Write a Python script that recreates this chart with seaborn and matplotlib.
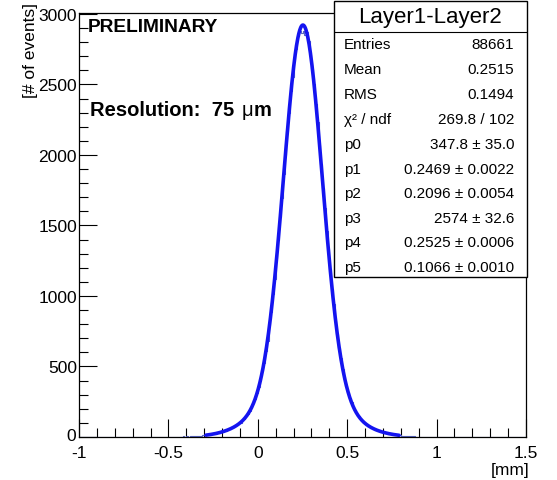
import numpy as np
import pandas as pd
import matplotlib
matplotlib.use("Agg")
import matplotlib.pyplot as plt
import matplotlib.transforms as mtransforms
from matplotlib.ticker import MultipleLocator, FuncFormatter
from matplotlib.patches import Rectangle
import seaborn as sns

# ---------------- data ----------------
bin_edges_range = (-1.0, 1.5)
n_bins = 250
counts = [
    0, 1, 0, 0, 1, 0, 0, 1, 0, 1,
    1, 0, 1, 0, 1, 1, 0, 1, 0, 1,
    1, 0, 1, 1, 0, 1, 1, 0, 2, 1,
    1, 1, 0, 2, 1, 1, 2, 1, 1, 2,
    2, 1, 2, 1, 2, 2, 1, 3, 2, 2,
    3, 2, 2, 3, 2, 3, 3, 2, 4, 3,
    4, 3, 5, 4, 6, 7, 6, 9, 10, 11,
    13, 12, 17, 16, 21, 23, 24, 28, 31, 33,
    37, 44, 46, 54, 56, 65, 69, 79, 83, 96,
    102, 118, 127, 148, 160, 187, 206, 241, 266, 312,
    356, 399, 468, 525, 612, 684, 795, 886, 1015, 1124,
    1272, 1398, 1561, 1695, 1866, 2003, 2171, 2296, 2452, 2555,
    2680, 2755, 2843, 2878, 2862, 2882, 2850, 2870, 2806, 2709,
    2608, 2505, 2359, 2236, 2071, 1935, 1764, 1627, 1461, 1330,
    1194, 1051, 945, 820, 733, 630, 561, 479, 426, 362,
    322, 275, 246, 209, 189, 161, 147, 125, 116, 100,
    93, 80, 76, 65, 62, 52, 50, 43, 41, 35,
    33, 28, 27, 22, 21, 19, 15, 15, 13, 12,
    10, 9, 8, 7, 6, 5, 5, 4, 3, 3,
    3, 2, 2, 2, 1, 2, 1, 1, 2, 1,
    1, 0, 1, 1, 0, 1, 0, 1, 0, 0,
    1, 0, 0, 1, 0, 0, 1, 0, 0, 0,
    0, 1, 0, 0, 0, 1, 0, 0, 0, 0,
    0, 0, 1, 0, 0, 0, 0, 1, 0, 0,
    0, 0, 0, 1, 0, 0, 0, 0, 0, 0,
]
# fit parameters (double gaussian) as shown in the stats box
fit_params = [347.8, 0.2469, 0.2096, 2574.0, 0.2525, 0.1066]
fit_range = (-0.29, 0.79)

stat_labels = ["Entries", "Mean", "RMS", "χ² / ndf", "p0", "p1", "p2", "p3", "p4", "p5"]
stat_values = ["88661", "0.2515", "0.1494", "269.8 / 102", "347.8 ± 35.0",
               "0.2469 ± 0.0022", "0.2096 ± 0.0054", "2574 ± 32.6",
               "0.2525 ± 0.0006", "0.1066 ± 0.0010"]
stat_title = "Layer1-Layer2"
x_ticks = [-1, -0.5, 0, 0.5, 1, 1.5]
y_ticks = [0, 500, 1000, 1500, 2000, 2500, 3000]

# ---------------- style ----------------
sns.set_style("ticks")
plt.rcParams["font.family"] = ["Liberation Sans", "DejaVu Sans"]
plt.rcParams["axes.unicode_minus"] = False
plt.rcParams["text.color"] = "black"
plt.rcParams["xtick.color"] = "black"
plt.rcParams["ytick.color"] = "black"

W, H = 557, 481
fig = plt.figure(figsize=(W / 100, H / 100), dpi=100)
fig.patch.set_facecolor("white")

def fx(px):
    return px / W

def fy(py):
    return 1 - py / H

ax_l, ax_r, ax_t, ax_b = 79, 526, 14, 438
ax = fig.add_axes([fx(ax_l), fy(ax_b), fx(ax_r) - fx(ax_l), fy(ax_t) - fy(ax_b)])

bw = (bin_edges_range[1] - bin_edges_range[0]) / n_bins
centers = bin_edges_range[0] + bw * (np.arange(n_bins) + 0.5)
df = pd.DataFrame({"x": centers, "w": np.asarray(counts, dtype=float)})
sns.histplot(data=df, x="x", weights="w", binwidth=bw, binrange=bin_edges_range,
             element="step", fill=False, color="#5a68c4", linewidth=0.8, ax=ax)

def fit_func(x, p):
    return (p[0] * np.exp(-0.5 * ((x - p[1]) / p[2]) ** 2)
            + p[3] * np.exp(-0.5 * ((x - p[4]) / p[5]) ** 2))

xf = np.linspace(fit_range[0], fit_range[1], 600)
dff = pd.DataFrame({"x": xf, "y": fit_func(xf, fit_params)})
sns.lineplot(data=dff, x="x", y="y", color="#1414f0", linewidth=2.6, ax=ax)

ax.set_xlim(-1.0, 1.5)
ax.set_ylim(0, 3007)
ax.set_xlabel("")
ax.set_ylabel("")
ax.set_xticks(x_ticks)
ax.set_yticks(y_ticks)
ax.xaxis.set_minor_locator(MultipleLocator(0.1))
ax.yaxis.set_minor_locator(MultipleLocator(100))
ax.xaxis.set_major_formatter(FuncFormatter(lambda v, p: "%g" % v))
ax.tick_params(which="major", direction="in", length=13, width=0.8, labelsize=12.5, colors="black")
ax.tick_params(which="minor", direction="in", length=6.5, width=0.8, colors="black")
ax.tick_params(axis="y", which="both", right=False, pad=1.5)
ax.tick_params(axis="x", which="both", top=False, pad=6)
for s in ax.spines.values():
    s.set_visible(True)
    s.set_color("black")
    s.set_linewidth(0.9)

# nudge the y "0" label up slightly so it does not collide with the x "-1" label
fig.canvas.draw()
ylabs = ax.get_yticklabels()
if ylabs:
    ylabs[0].set_transform(ylabs[0].get_transform() +
                           mtransforms.ScaledTranslation(-1 / 100, 3 / 100, fig.dpi_scale_trans))

# titles
fig.text(fx(30), fy(3), "[# of events]", rotation=90, ha="center", va="top", fontsize=12.5)
fig.text(fx(529), fy(478), "[mm]", ha="right", va="bottom", fontsize=12.5)

# annotations
fig.text(fx(88), fy(27), "PRELIMINARY", ha="left", va="center", fontsize=13.8, fontweight="bold")
fig.text(fx(90), fy(111), "Resolution:  75", ha="left", va="center", fontsize=14.5, fontweight="bold")
fig.text(fx(242), fy(111), "μ", ha="left", va="center", fontsize=14.5)
fig.text(fx(254), fy(111), "m", ha="left", va="center", fontsize=14.5, fontweight="bold")

# stats box
bx0, bx1, by0, by1 = 334, 527, 2, 278
fig.patches.append(Rectangle((fx(bx0), fy(by1)), fx(bx1) - fx(bx0), fy(by0) - fy(by1),
                             transform=fig.transFigure, facecolor="white",
                             edgecolor="black", linewidth=1.0, zorder=5))
fig.add_artist(plt.Line2D([fx(bx0), fx(bx1)], [fy(33), fy(33)], transform=fig.transFigure,
                          color="black", linewidth=0.8, zorder=6))
fig.text(fx((bx0 + bx1) / 2), fy(17.5), stat_title, ha="center", va="center", fontsize=16, zorder=7)
row_y = [45, 70, 95, 120, 145, 170, 194, 219, 243, 268]
for lab, val, yy in zip(stat_labels, stat_values, row_y):
    fig.text(fx(344), fy(yy), lab, ha="left", va="center", fontsize=11, zorder=7)
    fig.text(fx(514), fy(yy), val, ha="right", va="center", fontsize=11, zorder=7)

fig.savefig("out.png", dpi=100, facecolor="white")
